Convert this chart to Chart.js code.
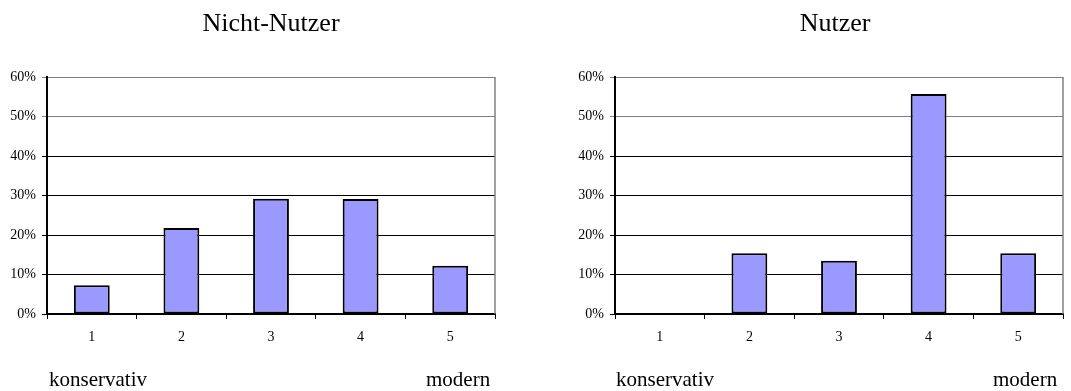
<!DOCTYPE html>
<html>
<head>
<meta charset="utf-8">
<script src="https://cdn.jsdelivr.net/npm/chart.js@4/dist/chart.umd.min.js"></script>
<style>
  html, body { margin: 0; padding: 0; background: #fff; }
  body { width: 1071px; height: 391px; position: relative; overflow: hidden; font-family: "Liberation Serif", "DejaVu Serif", serif; color: #000; }
  canvas { position: absolute; top: 0; }
  .t { position: absolute; white-space: nowrap; }
  .title { font-size: 26px; line-height: 26px; top: 10px; text-align: center; width: 300px; }
  .lab { font-size: 21px; line-height: 21px; top: 369px; }
</style>
</head>
<body>
<canvas id="c1" width="535" height="391" style="left:0px"></canvas>
<canvas id="c2" width="536" height="391" style="left:535px"></canvas>
<div class="t title" style="left:121px">Nicht-Nutzer</div>
<div class="t title" style="left:685px">Nutzer</div>
<div class="t lab" style="left:49px">konservativ</div>
<div class="t lab" style="left:426px">modern</div>
<div class="t lab" style="left:616px">konservativ</div>
<div class="t lab" style="left:993px">modern</div>
<script>
const categories = ["1", "2", "3", "4", "5"];
const nichtNutzer = [7.3, 21.8, 29.2, 29.1, 12.2];
const nutzer = [0, 15.4, 13.5, 55.7, 15.4];
const yTicks = [0, 10, 20, 30, 40, 50, 60];

const rightBorder = {
  id: 'rightBorder',
  afterDatasetsDraw(chart) {
    const a = chart.chartArea, ctx = chart.ctx;
    ctx.save();
    ctx.strokeStyle = '#808080';
    ctx.lineWidth = 1.5;
    ctx.beginPath();
    ctx.moveTo(a.right, a.top);
    ctx.lineTo(a.right, a.bottom);
    ctx.stroke();
    ctx.restore();
  }
};

function makeChart(id, values, yWidth, padRight) {
  return new Chart(document.getElementById(id), {
    type: 'bar',
    data: {
      labels: categories,
      datasets: [{
        data: values,
        backgroundColor: '#9999FF',
        borderColor: '#000000',
        borderWidth: 2,
        borderSkipped: false,
        barPercentage: 0.4,
        categoryPercentage: 1.0
      }]
    },
    options: {
      responsive: false,
      animation: false,
      devicePixelRatio: 1,
      layout: { autoPadding: false, padding: { top: 77, right: padRight, bottom: 0, left: 0 } },
      plugins: { legend: { display: false }, tooltip: { enabled: false }, title: { display: false } },
      scales: {
        x: {
          offset: true,
          afterFit: s => { s.height = 77; },
          grid: { display: true, drawOnChartArea: false, drawTicks: true, tickLength: 5, color: '#000', lineWidth: 1, offset: true },
          border: { display: true, color: '#000', width: 2 },
          ticks: { color: '#000', padding: 10, font: { family: 'Liberation Serif', size: 14 }, maxRotation: 0 }
        },
        y: {
          min: 0, max: 60,
          afterFit: s => { s.width = yWidth; },
          afterBuildTicks: s => { s.ticks = yTicks.map(v => ({ value: v })); },
          grid: {
            drawTicks: true, tickLength: 5, lineWidth: 1,
            color: ctx => (ctx.tick && ctx.tick.value >= 50) ? '#808080' : '#000'
          },
          border: { display: true, color: '#000', width: 2 },
          ticks: { color: '#000', padding: 6, font: { family: 'Liberation Serif', size: 14 }, callback: v => v + '%' }
        }
      }
    },
    plugins: [rightBorder]
  });
}

makeChart('c1', nichtNutzer, 47, 40);
makeChart('c2', nutzer, 80, 8);
</script>
</body>
</html>
